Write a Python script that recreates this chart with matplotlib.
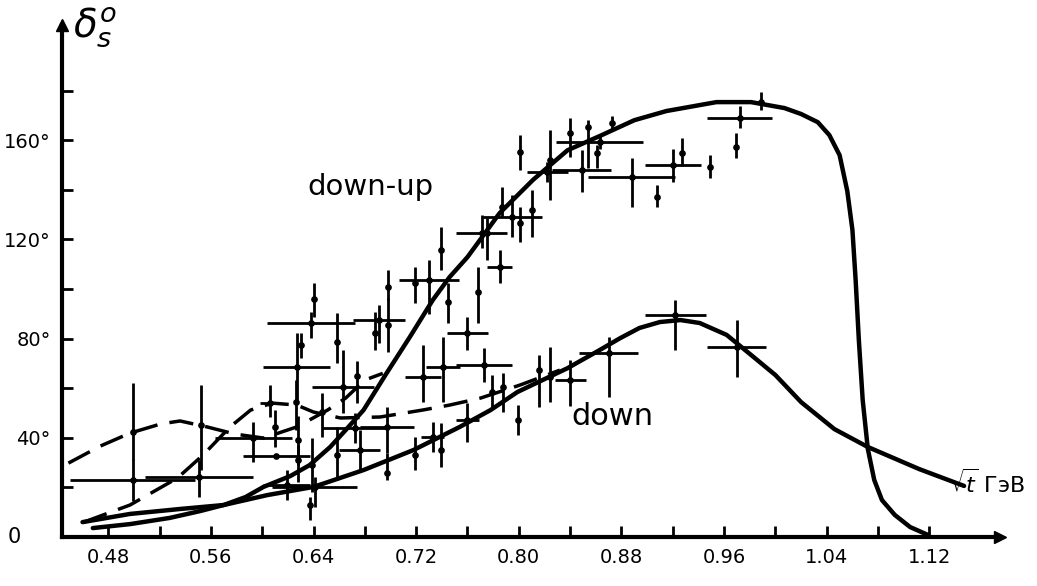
import matplotlib
matplotlib.use("Agg")
import matplotlib.pyplot as plt
import numpy as np

# ---------------- data ----------------
# solid "down-up" curve
downup_x = [0.468, 0.497, 0.528, 0.552, 0.570, 0.587, 0.601, 0.622, 0.637, 0.653, 0.665, 0.679,
            0.697, 0.715, 0.733, 0.746, 0.760, 0.785, 0.811, 0.838, 0.863, 0.890, 0.915, 0.954,
            0.981, 1.007, 1.020, 1.033, 1.042, 1.050, 1.056, 1.060, 1.0625, 1.065, 1.068, 1.072,
            1.077, 1.083, 1.093, 1.105, 1.119]
downup_y = [3.6, 5.2, 7.7, 10.5, 12.9, 16.1, 20.2, 24.6, 29.0, 36.3, 43.1, 51.2,
            66.1, 80.6, 95.6, 104.8, 112.9, 130.6, 144.0, 156.0, 161.7, 168.1, 171.8, 175.4,
            175.4, 173.0, 170.6, 167.3, 162.1, 154.0, 139.5, 123.8, 103.6, 79.4, 55.2, 35.5,
            23.0, 14.9, 8.9, 4.0, 0.8]

# solid "down" curve
down_x = [0.460, 0.497, 0.536, 0.570, 0.604, 0.640, 0.679, 0.718, 0.754, 0.778, 0.799, 0.838,
          0.863, 0.879, 0.894, 0.910, 0.926, 0.941, 0.962, 0.982, 1.000, 1.020, 1.046, 1.072,
          1.112, 1.147]
down_y = [6.0, 9.3, 11.3, 12.9, 16.9, 20.2, 27.0, 35.1, 44.4, 51.2, 58.5, 68.1,
          75.4, 80.2, 84.3, 86.7, 87.5, 86.3, 81.5, 73.0, 65.3, 54.4, 43.5, 36.3,
          27.4, 20.6]

# dashed curve A
dashA_x = [0.449, 0.474, 0.497, 0.521, 0.536, 0.557, 0.579, 0.601, 0.627, 0.651, 0.665, 0.680, 0.694]
dashA_y = [29.8, 36.7, 41.9, 45.6, 46.8, 44.4, 41.5, 39.9, 44.4, 51.2, 56.0, 63.3, 66.0]

# dashed curve B
dashB_x = [0.461, 0.497, 0.534, 0.554, 0.575, 0.591, 0.608, 0.627, 0.640, 0.661, 0.692, 0.725,
           0.746, 0.770, 0.801, 0.832]
dashB_y = [6.0, 12.9, 23.8, 33.1, 44.4, 51.2, 54.0, 53.2, 50.4, 48.0, 48.4, 51.2,
           53.2, 56.0, 61.3, 67.3]

# experimental points: sqrt(t), delta, x half-error, lower / upper delta error
pt_x = [0.499, 0.499, 0.552, 0.551, 0.606, 0.610, 0.593, 0.626, 0.611, 0.628,
        0.619, 0.640, 0.638, 0.658, 0.630, 0.627, 0.691, 0.688, 0.698, 0.663,
        0.674, 0.647, 0.658, 0.676, 0.697, 0.697, 0.641, 0.637, 0.739, 0.771,
        0.775, 0.795, 0.787, 0.801, 0.810, 0.785, 0.768, 0.745, 0.730, 0.719,
        0.760, 0.801, 0.824, 0.822, 0.840, 0.863, 0.854, 0.873, 0.849, 0.861,
        0.888, 0.920, 0.927, 0.908, 0.949, 0.972, 0.969, 0.989, 0.922, 0.970,
        0.870, 0.840, 0.816, 0.824, 0.788, 0.779, 0.799, 0.760, 0.739, 0.733,
        0.719, 0.773, 0.741, 0.725, 0.698, 0.628, 0.639, 0.672]
pt_y = [42.3, 23.0, 45.2, 24.2, 54.0, 44.4, 39.9, 54.4, 32.7, 31.0,
        21.0, 96.0, 86.3, 78.6, 77.4, 68.5, 87.5, 82.3, 100.8, 60.5,
        65.0, 50.4, 33.1, 35.0, 44.4, 25.8, 20.2, 12.9, 115.7, 122.6,
        122.6, 129.0, 133.1, 126.6, 131.9, 108.9, 98.8, 94.8, 103.6, 102.4,
        82.3, 155.2, 152.0, 147.2, 162.9, 159.3, 165.3, 166.9, 148.0, 154.8,
        145.0, 150.0, 154.8, 137.1, 149.2, 169.0, 157.3, 175.4, 89.5, 76.6,
        74.2, 63.3, 67.3, 64.5, 60.5, 58.5, 47.2, 47.2, 35.1, 40.3,
        33.1, 69.4, 68.5, 64.5, 85.5, 39.0, 29.0, 44.0]
pt_xerr = [0.0, 0.049, 0.0, 0.042, 0.008, 0.0, 0.030, 0.0, 0.026, 0.0,
           0.018, 0.0, 0.034, 0.0, 0.0, 0.026, 0.020, 0.0, 0.0, 0.024,
           0.0, 0.0, 0.0, 0.016, 0.021, 0.0, 0.033, 0.0, 0.0, 0.020,
           0.0, 0.023, 0.0, 0.0, 0.0, 0.010, 0.0, 0.0, 0.023, 0.0,
           0.016, 0.0, 0.0, 0.016, 0.0, 0.034, 0.0, 0.0, 0.023, 0.0,
           0.034, 0.022, 0.0, 0.0, 0.0, 0.025, 0.0, 0.0, 0.024, 0.023,
           0.023, 0.012, 0.0, 0.0, 0.0, 0.0, 0.0, 0.009, 0.0, 0.009,
           0.0, 0.022, 0.013, 0.014, 0.0, 0.0, 0.0, 0.025]
pt_ylo = [11.3, 8.5, 18.2, 8.1, 5.6, 8.1, 9.7, 11.3, 0.0, 9.0,
          6.0, 7.3, 6.1, 8.5, 5.2, 13.3, 9.3, 7.0, 5.3, 10.5,
          11.0, 10.0, 10.0, 8.0, 10.5, 3.0, 8.0, 6.0, 8.0, 6.0,
          11.0, 8.0, 4.0, 7.5, 11.0, 6.5, 12.5, 8.5, 13.7, 8.0,
          7.0, 7.3, 16.0, 4.0, 9.7, 3.0, 16.5, 3.0, 9.0, 6.0,
          12.0, 7.0, 5.0, 4.0, 4.4, 4.0, 4.4, 3.0, 14.0, 12.0,
          17.7, 10.5, 15.0, 10.0, 10.0, 6.5, 6.0, 9.0, 7.0, 6.0,
          6.0, 7.0, 14.0, 10.0, 11.0, 10.0, 11.0, 6.0]
pt_yhi = [19.8, 8.5, 16.1, 6.8, 7.3, 6.8, 6.5, 8.9, 0.0, 6.0,
          6.0, 6.5, 4.4, 11.7, 4.9, 13.7, 6.0, 8.4, 6.9, 14.9,
          6.0, 7.7, 11.3, 8.0, 8.0, 8.0, 4.0, 3.2, 9.3, 7.2,
          6.0, 8.9, 8.0, 6.5, 8.0, 6.8, 10.0, 7.6, 8.0, 6.5,
          6.4, 6.9, 12.0, 4.0, 6.0, 3.0, 2.8, 3.0, 8.0, 3.2,
          8.0, 6.5, 6.0, 5.0, 4.8, 5.0, 5.6, 4.0, 6.0, 11.0,
          6.5, 8.0, 6.0, 12.0, 5.6, 6.8, 6.0, 7.0, 11.0, 6.0,
          7.3, 7.0, 12.0, 13.0, 11.0, 10.0, 11.0, 6.0]

x_major = [0.48, 0.56, 0.64, 0.72, 0.80, 0.88, 0.96, 1.04, 1.12]
x_labels = ["0.48", "0.56", "0.64", "0.72", "0.80", "0.88", "0.96", "1.04", "1.12"]
x_minor = [0.52, 0.60, 0.68, 0.76, 0.84, 0.92, 1.00, 1.08]
y_major = [0, 40, 80, 120, 160]
y_labels = ["", "40°", "80°", "120°", "160°"]
y_minor = [20, 60, 100, 140, 180]

# ---------------- figure ----------------
fig = plt.figure(figsize=(10.37, 5.86), dpi=100)
ax = fig.add_axes([62 / 1037, 49 / 586, (1000 - 62) / 1037, (537 - 25) / 586])
ax.set_xlim(0.444, 1.175)
ax.set_ylim(0, 206.5)

for s in ("top", "right"):
    ax.spines[s].set_visible(False)
for s in ("left", "bottom"):
    ax.spines[s].set_linewidth(3.0)

ax.set_xticks(x_major)
ax.set_xticklabels(x_labels)
ax.set_xticks(x_minor, minor=True)
ax.set_yticks(y_major)
ax.set_yticklabels(y_labels)
ax.set_yticks(y_minor, minor=True)
ax.tick_params(which="both", direction="in", length=8, width=2, labelsize=14, pad=8)

# axis arrow heads
ax.plot(1, 0, marker=">", ms=9, color="k", transform=ax.get_yaxis_transform(), clip_on=False)
ax.plot(0, 1, marker="^", ms=9, color="k", transform=ax.transAxes, clip_on=False)

# curves
ax.plot(downup_x, downup_y, color="k", lw=3.2, solid_capstyle="round", solid_joinstyle="round")
ax.plot(down_x, down_y, color="k", lw=3.2, solid_capstyle="round", solid_joinstyle="round")
ax.plot(dashA_x, dashA_y, color="k", lw=2.5, dashes=(7, 3.5))
ax.plot(dashB_x, dashB_y, color="k", lw=2.5, dashes=(7, 3.5))

# data points
xerr = np.array(pt_xerr)
yerr = np.vstack([pt_ylo, pt_yhi])
ax.errorbar(pt_x, pt_y, xerr=xerr, yerr=yerr, fmt="o", ms=3.8, color="k",
            ecolor="k", elinewidth=2.0, capsize=0)

# texts
ax.text(0.684, 141, "down-up", fontsize=21, ha="center", va="center")
ax.text(0.873, 48.4, "down", fontsize=22, ha="center", va="center")
fig.text(14 / 1037, 1 - 537 / 586, "0", fontsize=15, ha="center", va="center")
fig.text(73 / 1037, 1 - 27 / 586, r"$\delta_s^{o}$", fontsize=28, ha="left", va="center")
fig.text(988 / 1037, 1 - 483 / 586, r"$\sqrt{t}$ ГэВ", fontsize=16, ha="center", va="center")

fig.savefig("out.png", dpi=100)
